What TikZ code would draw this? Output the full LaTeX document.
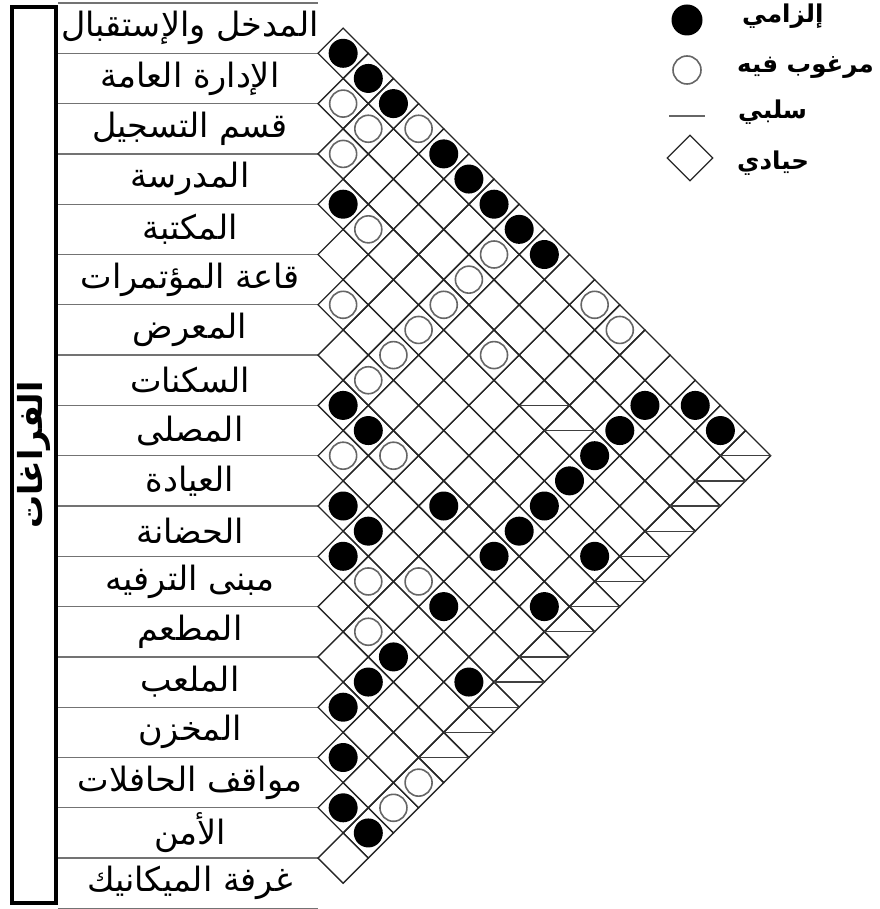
\documentclass[tikz,border=0pt]{standalone}
\usepackage{fontspec}
\newfontfamily\arabicfont[Script=Arabic]{DejaVu Sans}
\TeXXeTstate=1
\usetikzlibrary{shapes.geometric, calc}

\begin{document}
\begin{tikzpicture}[
    x=1pt, y=-1pt,
    cellline/.style={draw=black!85, line width=1.3pt},
    rowline/.style={draw=black!55, line width=1.3pt},
    rowlabel/.style={font=\arabicfont\fontsize{33.5}{33.5}\selectfont, inner sep=0pt},
    titlebox/.style={draw=black, line width=3.5pt, minimum width=896pt, minimum height=44pt, rotate=90, font=\arabicfont\bfseries\fontsize{33}{33}\selectfont},
    must/.style={circle, fill=black, minimum size=29pt, inner sep=0pt},
    wish/.style={circle, draw=black!60, line width=1.6pt, fill=white, minimum size=27pt, inner sep=0pt},
    neg/.style={draw=black!75, line width=1.3pt},
    keytext/.style={anchor=west, inner sep=0pt, font=\arabicfont\bfseries\fontsize{24.5}{24.5}\selectfont}
]
\useasboundingbox (0,0) rectangle (879,909);

    % Title
    \node[titlebox] (title) at (34,455) {\beginR الفراغات\endR};

    % Rows
    \foreach \name [count=\r] in {المدخل والإستقبال, الإدارة العامة, قسم التسجيل, المدرسة, المكتبة, قاعة المؤتمرات, المعرض, السكنات, المصلى, العيادة, الحضانة, مبنى الترفيه, المطعم, الملعب, المخزن, مواقف الحافلات, الأمن, غرفة الميكانيك} {
        \draw[rowline] (58,{3+50.3*(\r-1)}) -- (318,{3+50.3*(\r-1)});
        \node[rowlabel] (row\r) at (190,{3+50.3*(\r-0.5)}) {\beginR\name\endR};
    }
    \draw[rowline] (58,908.4) -- (318,908.4);

    % Matrix cells
    \foreach \i [evaluate=\i as \k using int(\i+1)] in {1,...,17} {
        \foreach \j in {\k,...,18} {
            \coordinate (c-\i-\j) at ({318+25.15*(\j-\i)},{3+25.15*(\i+\j-1)});
            \draw[cellline] (c-\i-\j) ++(-25.15,0) -- ++(25.15,-25.15) -- ++(25.15,25.15) -- ++(-25.15,25.15) -- cycle;
        }
    }

    % Compulsory
    \foreach \i/\j in {1/2,1/3,1/4,1/6,1/7,1/8,1/9,1/10,1/16,1/17,2/15,3/15,4/15,5/15,6/15,7/15,8/15,4/5,8/9,8/10,8/13,10/11,10/12,11/12,6/17,8/17,10/15,12/15,13/15,11/17,14/15,15/16,16/17,16/18}
        \node[must] (m-\i-\j) at (c-\i-\j) {};

    % Desirable
    \foreach \i/\j in {1/5,2/3,2/4,3/4,4/6,2/9,3/9,4/9,5/9,6/9,7/9,6/7,1/12,1/13,4/11,9/10,8/11,11/13,10/14,12/14,14/18,15/18}
        \node[wish] (w-\i-\j) at (c-\i-\j) {};

    % Negative
    \foreach \i/\j in {4/13,4/14,1/18,2/18,3/18,4/18,5/18,6/18,7/18,8/18,9/18,10/18,11/18,12/18,13/18}
        \draw[neg] (c-\i-\j) ++(-25.15,0) -- ++(50.3,0);

    % Key
    \node[must, minimum size=31pt] (kmust) at (687,20) {};
    \node[keytext] (tmust) at (742,16) {\beginR إلزامي\endR};
    \node[wish, minimum size=28pt] (kwish) at (687,70) {};
    \node[keytext] (twish) at (737,68) {\beginR مرغوب فيه\endR};
    \coordinate (kneg1) at (669,116);
    \coordinate (kneg2) at (705,116);
    \draw[neg, draw=black!60] (kneg1) -- (kneg2);
    \node[keytext] (tneg) at (738,112) {\beginR سلبي\endR};
    \node[diamond, draw=black!85, line width=1.3pt, minimum width=46pt, minimum height=46pt, inner sep=0pt] (kzero) at (690,158) {};
    \node[keytext] (tzero) at (737,163) {\beginR حيادي\endR};

\end{tikzpicture}
\end{document}
